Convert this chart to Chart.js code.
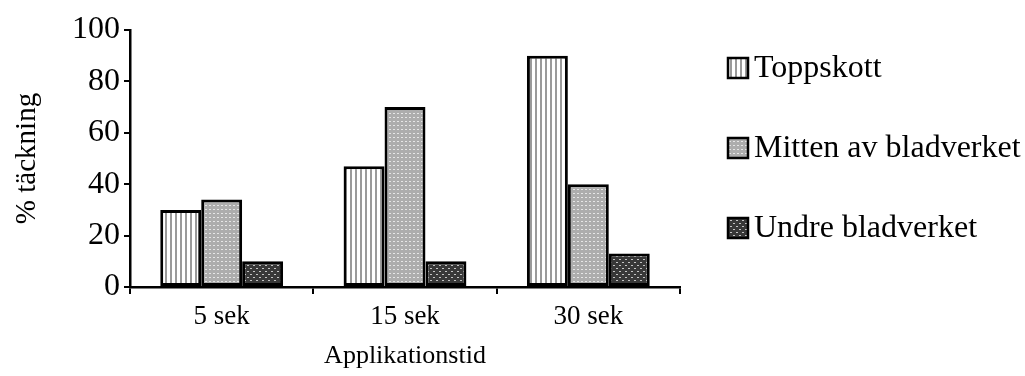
<!DOCTYPE html>
<html>
<head>
<meta charset="utf-8">
<script src="https://cdn.jsdelivr.net/npm/chart.js@4"></script>
<style>
    html, body { margin: 0; padding: 0; background: #fff; }
    .wrap { width: 1025px; height: 376px; }
</style>
</head>
<body>
<div class="wrap"><canvas id="chart"></canvas></div>
<script>
const categories = ['5 sek', '15 sek', '30 sek'];
const seriesNames = ['Toppskott', 'Mitten av bladverket', 'Undre bladverket'];
const toppskott = [30, 47, 90];
const mitten = [34, 70, 40];
const undre = [10, 10, 13];
const yMin = 0;
const yMax = 100;
const yStep = 20;

const FONT = '"Liberation Serif", "Times New Roman", serif';

function makePattern(w, h, draw) {
    const c = document.createElement('canvas');
    c.width = w;
    c.height = h;
    const g = c.getContext('2d');
    draw(g);
    return c.getContext('2d').createPattern(c, 'repeat');
}

// vertical stripes
const stripes = makePattern(5, 5, g => {
    g.fillStyle = '#ffffff';
    g.fillRect(0, 0, 5, 5);
    g.fillStyle = '#9a9a9a';
    g.fillRect(0, 0, 2, 5);
});

// light grey with white dots
const lightDots = makePattern(4, 4, g => {
    g.fillStyle = '#adadad';
    g.fillRect(0, 0, 4, 4);
    g.fillStyle = '#e6e6e6';
    g.fillRect(1, 1, 2, 1);
});

// dark with light dots
const darkDots = makePattern(6, 6, g => {
    g.fillStyle = '#383838';
    g.fillRect(0, 0, 6, 6);
    g.fillStyle = '#c4c4c4';
    g.fillRect(1, 1, 2, 1);
    g.fillRect(4, 4, 2, 1);
});

const fills = [stripes, lightDots, darkDots];

const data = {
    labels: categories,
    datasets: [toppskott, mitten, undre].map((values, i) => ({
        label: seriesNames[i],
        data: values,
        backgroundColor: fills[i],
        borderColor: '#000',
        borderWidth: 3,
        borderSkipped: false,
        categoryPercentage: 0.67,
        barPercentage: 1
    }))
};

// legend drawn by hand to match the spacing of the original
const sideLegend = {
    id: 'sideLegend',
    afterDraw(chart) {
        const { ctx } = chart;
        ctx.save();
        ctx.font = '32px ' + FONT;
        ctx.textBaseline = 'middle';
        chart.data.datasets.forEach((ds, i) => {
            const cy = 68 + i * 80;
            ctx.fillStyle = ds.backgroundColor;
            ctx.fillRect(728, cy - 10, 20, 20);
            ctx.lineWidth = 2.5;
            ctx.strokeStyle = '#000';
            ctx.strokeRect(728, cy - 10, 20, 20);
            ctx.fillStyle = '#000';
            ctx.fillText(ds.label, 754, cy + 1);
        });
        ctx.restore();
    }
};

const config = {
    type: 'bar',
    data,
    options: {
        responsive: true,
        maintainAspectRatio: false,
        animation: false,
        layout: {
            padding: { top: 30, right: 345, bottom: 0, left: 0 }
        },
        plugins: {
            legend: { display: false },
            tooltip: { enabled: false }
        },
        scales: {
            x: {
                offset: true,
                grid: {
                    offset: true,
                    drawOnChartArea: false,
                    color: '#000',
                    lineWidth: 2,
                    tickLength: 7
                },
                border: { display: true, color: '#000', width: 2.5 },
                ticks: {
                    color: '#000',
                    padding: 7,
                    font: { family: FONT, size: 27 }
                },
                title: {
                    display: true,
                    text: 'Applikationstid',
                    color: '#000',
                    font: { family: FONT, size: 26 },
                    padding: { top: 9, bottom: 4 }
                },
                afterFit(scale) {
                    scale.height = 89;
                }
            },
            y: {
                min: yMin,
                max: yMax,
                grid: {
                    drawOnChartArea: false,
                    color: '#000',
                    lineWidth: 2,
                    tickLength: 6
                },
                border: { display: true, color: '#000', width: 2.5 },
                ticks: {
                    stepSize: yStep,
                    color: '#000',
                    padding: 4,
                    font: { family: FONT, size: 32 }
                },
                title: {
                    display: true,
                    text: '% täckning',
                    color: '#000',
                    font: { family: FONT, size: 29 },
                    padding: 10
                },
                afterFit(scale) {
                    scale.width = 130;
                }
            }
        }
    },
    plugins: [sideLegend]
};

const myChart = new Chart(document.getElementById('chart'), config);
</script>
</body>
</html>
